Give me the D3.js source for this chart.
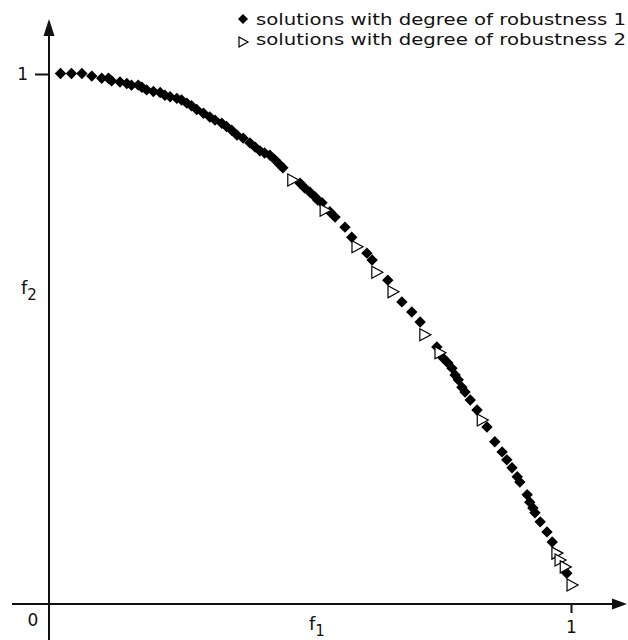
<!DOCTYPE html>
<html>
<head>
<meta charset="utf-8">
<script src="https://cdn.jsdelivr.net/npm/d3@7"></script>
<style>
  html, body { margin: 0; padding: 0; background: #fff; }
  svg { display: block; }
  text { font-family: "DejaVu Sans", Verdana, sans-serif; fill: #111; }
</style>
</head>
<body>
<svg id="chart" width="628" height="640"></svg>
<script>
// Pareto front points (f1, f2), degree of robustness 1
const robust1F1 = [0.022, 0.043, 0.063, 0.082, 0.101, 0.114, 0.120, 0.136, 0.149, 0.158,
  0.171, 0.178, 0.187, 0.200, 0.213, 0.222, 0.232, 0.245, 0.254, 0.264,
  0.273, 0.283, 0.296, 0.308, 0.318, 0.331, 0.340, 0.350, 0.360, 0.372,
  0.385, 0.395, 0.404, 0.413, 0.423, 0.433, 0.443, 0.448, 0.481, 0.490, 0.500,
  0.510, 0.515, 0.523, 0.538, 0.548, 0.567, 0.580, 0.609, 0.619, 0.649,
  0.676, 0.695, 0.711, 0.743, 0.755, 0.764, 0.772, 0.778, 0.784, 0.791,
  0.797, 0.807, 0.820, 0.839, 0.854, 0.868, 0.877, 0.887, 0.897, 0.902,
  0.916, 0.921, 0.927, 0.931, 0.941, 0.954, 0.964, 0.992];
const robust1F2 = [1.001, 1.001, 1.001, 0.996, 0.992, 0.992, 0.987, 0.985, 0.982, 0.979,
  0.979, 0.975, 0.970, 0.967, 0.965, 0.960, 0.957, 0.954, 0.951, 0.945,
  0.940, 0.933, 0.926, 0.919, 0.913, 0.907, 0.901, 0.894, 0.885, 0.879,
  0.870, 0.862, 0.855, 0.851, 0.847, 0.838, 0.828, 0.823, 0.794, 0.785, 0.777,
  0.768, 0.762, 0.757, 0.740, 0.730, 0.711, 0.692, 0.662, 0.649, 0.611,
  0.570, 0.551, 0.532, 0.485, 0.464, 0.455, 0.445, 0.432, 0.423, 0.409,
  0.400, 0.385, 0.366, 0.334, 0.306, 0.287, 0.272, 0.257, 0.240, 0.230,
  0.206, 0.192, 0.181, 0.172, 0.155, 0.136, 0.117, 0.058];

// Pareto front points (f1, f2), degree of robustness 2
const robust2F1 = [0.467, 0.529, 0.590, 0.628, 0.659, 0.720, 0.749, 0.830, 0.973, 0.979, 0.989, 1.002];
const robust2F2 = [0.800, 0.743, 0.674, 0.626, 0.589, 0.508, 0.474, 0.347, 0.096, 0.083, 0.070, 0.036];

const tickValuesX = [1];
const tickValuesY = [1];
const legendLabels = ["solutions with degree of robustness 1", "solutions with degree of robustness 2"];

const svg = d3.select("#chart");
const x = d3.scaleLinear().domain([0, 1]).range([49, 571]);
const y = d3.scaleLinear().domain([0, 1]).range([604, 74]);

const ink = "#111";

// Axis lines with arrowheads
svg.append("line").attr("x1", 12).attr("x2", 614).attr("y1", y(0)).attr("y2", y(0))
  .attr("stroke", ink).attr("stroke-width", 2);
svg.append("path").attr("d", `M627,${y(0)} L612,${y(0) - 5.5} L612,${y(0) + 5.5} Z`).attr("fill", ink);
svg.append("line").attr("x1", x(0)).attr("x2", x(0)).attr("y1", 34).attr("y2", 640)
  .attr("stroke", ink).attr("stroke-width", 2);
svg.append("path").attr("d", `M${x(0)},19 L${x(0) - 5.5},36 L${x(0) + 5.5},36 Z`).attr("fill", ink);

// Ticks
const xAxis = svg.append("g").attr("transform", `translate(0,${y(0)})`)
  .call(d3.axisBottom(x).tickValues(tickValuesX).tickSize(9).tickPadding(8).tickFormat(d3.format("d")));
const yAxis = svg.append("g").attr("transform", `translate(${x(0)},0)`)
  .call(d3.axisLeft(y).tickValues(tickValuesY).tickSize(14).tickPadding(7).tickFormat(d3.format("d")));
[xAxis, yAxis].forEach(g => {
  g.select(".domain").remove();
  g.selectAll(".tick line").attr("stroke", ink).attr("stroke-width", 2);
  g.selectAll(".tick text").attr("font-size", 17).attr("font-family", "DejaVu Sans, Verdana, sans-serif").attr("fill", ink);
});

// Origin and axis titles
svg.append("text").attr("x", 33).attr("y", 626).attr("text-anchor", "middle").attr("font-size", 17).text("0");
const f1 = svg.append("text").attr("x", 309).attr("y", 630).attr("font-size", 18);
f1.append("tspan").text("f");
f1.append("tspan").attr("dy", 6).attr("font-size", 15).text("1");
const f2 = svg.append("text").attr("x", 21).attr("y", 294).attr("font-size", 18);
f2.append("tspan").text("f");
f2.append("tspan").attr("dy", 6).attr("font-size", 15).text("2");

// Markers
const diamond = s => `M0,${-s} L${s},0 L0,${s} L${-s},0 Z`;
const triangle = "M-5,-6 L6,0 L-5,6 Z";

const pts1 = robust1F1.map((v, i) => ({ f1: v, f2: robust1F2[i] }));
const pts2 = robust2F1.map((v, i) => ({ f1: v, f2: robust2F2[i] }));

svg.append("g").selectAll("path").data(pts1).join("path")
  .attr("d", diamond(5.7))
  .attr("transform", d => `translate(${x(d.f1)},${y(d.f2)})`)
  .attr("fill", "#000");

svg.append("g").selectAll("path").data(pts2).join("path")
  .attr("d", triangle)
  .attr("transform", d => `translate(${x(d.f1)},${y(d.f2)})`)
  .attr("fill", "#fff").attr("stroke", "#000").attr("stroke-width", 1.2);

// Legend
const legend = svg.append("g");
legend.append("path").attr("d", diamond(5)).attr("transform", "translate(243,19)").attr("fill", "#000");
legend.append("path").attr("d", "M-4,-5 L5,0 L-4,5 Z").attr("transform", "translate(243,42)")
  .attr("fill", "#fff").attr("stroke", "#000").attr("stroke-width", 1.2);
legendLabels.forEach((t, i) => {
  legend.append("text").attr("x", 256).attr("y", 25 + i * 20)
    .attr("font-size", 15).attr("textLength", 370).attr("lengthAdjust", "spacingAndGlyphs").text(t);
});
</script>
</body>
</html>
